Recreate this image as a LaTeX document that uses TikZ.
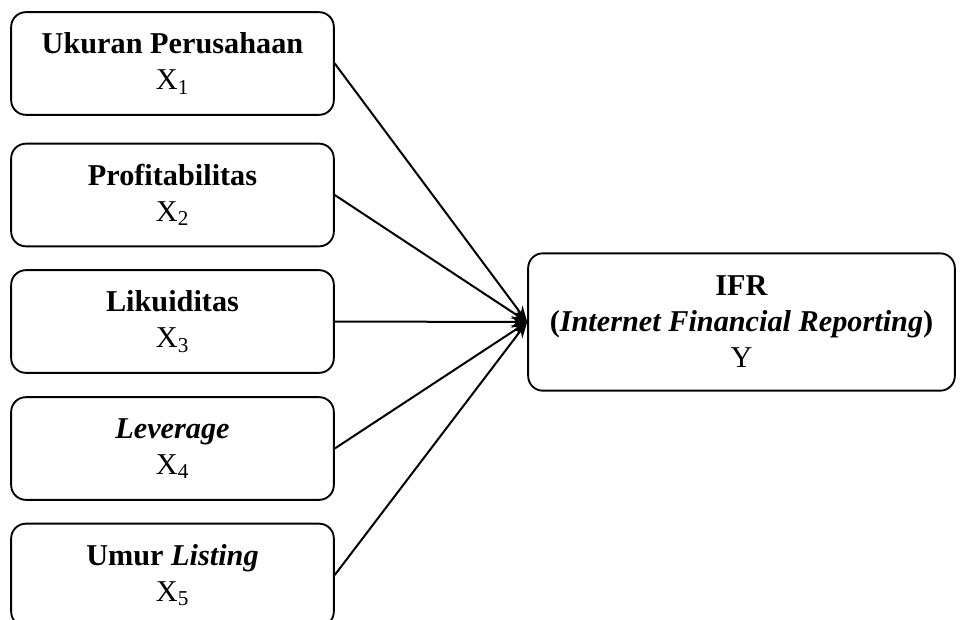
\documentclass[tikz,border=0pt]{standalone}
\usepackage{fontspec}
\setmainfont{Liberation Serif}
\usetikzlibrary{arrows.meta}

\tikzset{
  varbox/.style={draw, line width=1.4pt, rounded corners=11pt, align=center,
    minimum width=242pt, minimum height=77pt, inner sep=0pt,
    font=\fontsize{22.7}{27}\selectfont},
  ifrbox/.style={varbox, minimum width=320pt, minimum height=103pt},
  link/.style={line width=1.5pt, -{Stealth[length=12pt,width=9pt]}}
}

\begin{document}
\begin{tikzpicture}[x=0.75pt,y=0.75pt,yscale=-1,xscale=1]
	\useasboundingbox (0,0) rectangle (963,619);
	
	% independent variables
	\node [varbox] (x1) at (172.5,63.5) {\textbf{Ukuran Perusahaan}\\X\textsubscript{1}};
	\node [varbox] (x2) at (172.5,195) {\textbf{Profitabilitas}\\X\textsubscript{2}};
	\node [varbox] (x3) at (172.5,321.5) {\textbf{Likuiditas}\\X\textsubscript{3}};
	\node [varbox] (x4) at (172.5,448.5) {\textbf{\textit{Leverage}}\\X\textsubscript{4}};
	\node [varbox] (x5) at (172.5,575) {\textbf{Umur \textit{Listing}}\\X\textsubscript{5}};
	
	% dependent variable
	\node [ifrbox] (y) at (741.5,322) {\textbf{IFR}\\\textbf{(\textit{Internet Financial Reporting})}\\Y};
	
	% links
	\foreach \i in {1,...,5}
		\draw [link] (x\i.east) -- (y.west);
	
\end{tikzpicture}
\end{document}
